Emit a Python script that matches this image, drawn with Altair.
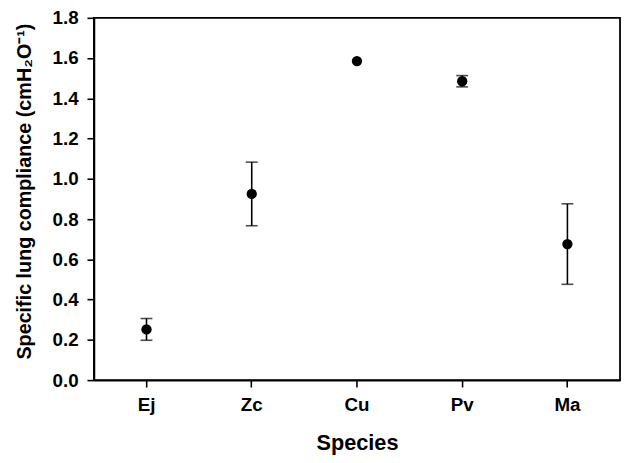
import altair as alt
import pandas as pd

species = ["Ej", "Zc", "Cu", "Pv", "Ma"]
compliance = [0.252, 0.925, 1.585, 1.485, 0.676]
error = [0.054, 0.158, 0.0, 0.028, 0.2]

df = pd.DataFrame({"Species": species, "mean": compliance, "err": error})
df["lo"] = df["mean"] - df["err"]
df["hi"] = df["mean"] + df["err"]

FONT = "Liberation Sans"
H = 367

x = alt.X("Species:N", sort=species,
          axis=alt.Axis(title="Species", labelAngle=0, titlePadding=18))
y_axis = alt.Axis(title="Specific lung compliance (cmH₂O⁻¹)",
                  values=[0, 0.2, 0.4, 0.6, 0.8, 1.0, 1.2, 1.4, 1.6, 1.8],
                  format=".1f", titlePadding=18, titleY=H / 2 - 8)
yscale = alt.Scale(domain=[0, 1.8], nice=False, zero=True)

base = alt.Chart(df)

err_src = base.transform_filter("datum.err > 0")
rules = err_src.mark_rule(color="black", strokeWidth=1.6).encode(
    x=x,
    y=alt.Y("lo:Q", scale=yscale, axis=y_axis),
    y2="hi:Q",
)
cap_lo = err_src.mark_tick(color="black", thickness=1.6, size=12, orient="horizontal").encode(
    x=x, y=alt.Y("lo:Q", scale=yscale))
cap_hi = err_src.mark_tick(color="black", thickness=1.6, size=12, orient="horizontal").encode(
    x=x, y=alt.Y("hi:Q", scale=yscale))
points = base.mark_point(filled=True, color="black", size=110, opacity=1).encode(
    x=x, y=alt.Y("mean:Q", scale=yscale))

chart = alt.layer(rules, cap_lo, cap_hi, points).properties(
    width=533, height=H,
    autosize=alt.AutoSizeParams(type="none"),
    padding={"left": 87, "top": 7, "right": 2, "bottom": 80},
).configure_view(
    stroke="black", strokeWidth=1.8
).configure_axis(
    grid=False,
    domainColor="black", domainWidth=1.8,
    tickColor="black", tickWidth=1.6, tickSize=7,
    labelFont=FONT, labelFontWeight="bold", labelFontSize=19, labelColor="black",
    labelPadding=9,
    titleFont=FONT, titleFontWeight="bold", titleColor="black",
).configure_axisX(
    titleFontSize=22,
).configure_axisY(
    titleFontSize=20,
).configure_point(
    strokeWidth=0
)

chart.save("out.html", embed_options={"renderer": "svg", "actions": False})
